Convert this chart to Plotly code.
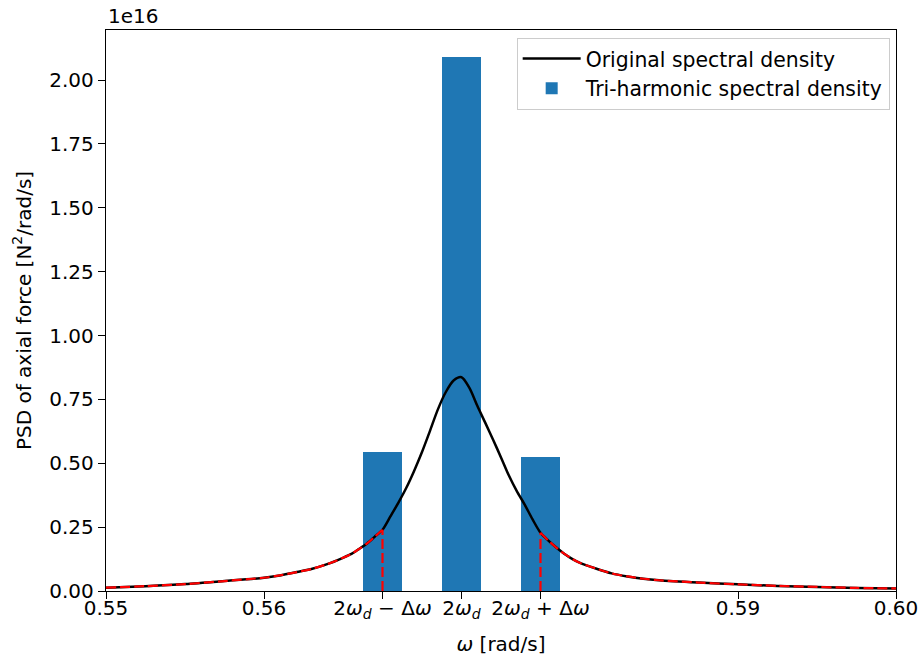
import plotly.graph_objects as go

# Spectral density of the axial force (values in units of 1e16 N^2/(rad/s))
omega = [0.550, 0.5525, 0.555, 0.5575, 0.560, 0.561, 0.562, 0.563, 0.564, 0.565,
         0.5655, 0.566, 0.5665, 0.567, 0.5675, 0.568, 0.5685, 0.569, 0.5695, 0.570,
         0.5705, 0.571, 0.5715, 0.572, 0.5725, 0.573, 0.5735, 0.574, 0.5745, 0.575,
         0.5755, 0.576, 0.5765, 0.577, 0.5775, 0.578, 0.5785, 0.579, 0.5795, 0.580,
         0.581, 0.582, 0.583, 0.584, 0.585, 0.5875, 0.590, 0.5925, 0.595, 0.5975,
         0.600]
psd = [0.013, 0.019, 0.027, 0.039, 0.052, 0.061, 0.073, 0.086, 0.105, 0.130,
       0.144, 0.164, 0.185, 0.212, 0.240, 0.292, 0.345, 0.403, 0.470, 0.544,
       0.626, 0.710, 0.778, 0.824, 0.837, 0.795, 0.725, 0.659, 0.592, 0.523,
       0.452, 0.391, 0.338, 0.280, 0.228, 0.197, 0.170, 0.146, 0.126, 0.110,
       0.088, 0.069, 0.057, 0.048, 0.042, 0.033, 0.026, 0.020, 0.016, 0.012,
       0.010]

# Tri-harmonic approximation
two_omega_d = 0.5725
delta_omega = 0.005
tri_omega = [two_omega_d - delta_omega, two_omega_d, two_omega_d + delta_omega]
tri_psd = [0.5425, 2.091, 0.524]
bar_width = 0.0025

x_tickvals = [0.55, 0.56] + tri_omega + [0.59, 0.60]
x_ticktext = ["0.55", "0.56",
              "2<i>ω</i><sub><i>d</i></sub> − Δ<i>ω</i>",
              "2<i>ω</i><sub><i>d</i></sub>",
              "2<i>ω</i><sub><i>d</i></sub> + Δ<i>ω</i>",
              "0.59", "0.60"]
y_tickvals = [0.0, 0.25, 0.5, 0.75, 1.0, 1.25, 1.5, 1.75, 2.0]

FONT = "DejaVu Sans"
FS = 20
BLUE = "#1f77b4"
DASH = "10px,4px"

fig = go.Figure()

fig.add_trace(go.Bar(
    x=tri_omega, y=tri_psd, width=bar_width,
    marker=dict(color=BLUE, line=dict(width=0)),
    name="Tri-harmonic spectral density", legendrank=2,
))

fig.add_trace(go.Scatter(
    x=omega, y=psd, mode="lines",
    line=dict(color="black", width=2.5, shape="spline", smoothing=0.8),
    name="Original spectral density", legendrank=1,
))

# Red dashed overlay on the tails outside the side harmonics
lo, hi = tri_omega[0], tri_omega[2]
left = [(w, p) for w, p in zip(omega, psd) if w <= lo + 1e-12]
right = [(w, p) for w, p in zip(omega, psd) if w >= hi - 1e-12]
for seg in (left, right):
    fig.add_trace(go.Scatter(
        x=[s[0] for s in seg], y=[s[1] for s in seg], mode="lines",
        line=dict(color="red", width=2.2, dash=DASH, shape="spline", smoothing=0.8),
        showlegend=False, hoverinfo="skip",
    ))

# Vertical dashed markers at the side harmonics, up to the spectrum
for w0 in (lo, hi):
    idx = min(range(len(omega)), key=lambda i: abs(omega[i] - w0))
    fig.add_trace(go.Scatter(
        x=[w0, w0], y=[0, psd[idx]], mode="lines",
        line=dict(color="red", width=2.2, dash=DASH),
        showlegend=False, hoverinfo="skip",
    ))

axis_common = dict(
    showline=True, linecolor="black", linewidth=1.4, mirror=True,
    ticks="outside", ticklen=7, tickwidth=1.4, tickcolor="black",
    showgrid=False, zeroline=False,
    tickfont=dict(family=FONT, size=FS, color="black"),
)

fig.update_xaxes(
    range=[0.55, 0.60], tickmode="array", tickvals=x_tickvals, ticktext=x_ticktext,
    ticklabelstandoff=-8, automargin=False,
    title=dict(text="<i>ω</i> [rad/s]", font=dict(family=FONT, size=FS, color="black"),
               standoff=15),
    **axis_common,
)
fig.update_yaxes(
    range=[0, 2.196], tickmode="array", tickvals=y_tickvals,
    ticktext=[f"{v:.2f}" for v in y_tickvals],
    title=dict(text="PSD of axial force [N<sup>2</sup>/rad/s]",
               font=dict(family=FONT, size=FS, color="black"), standoff=12),
    **axis_common,
)

fig.add_annotation(
    text="1e16", xref="paper", yref="paper", x=0, y=1.0,
    xanchor="left", yanchor="bottom", showarrow=False,
    font=dict(family=FONT, size=FS, color="black"),
)

fig.update_layout(
    width=921, height=663,
    margin=dict(l=106, r=25, t=30, b=72),
    paper_bgcolor="white", plot_bgcolor="white",
    font=dict(family=FONT, size=FS, color="black"),
    bargap=0,
    legend=dict(
        x=0.992, y=0.986, xanchor="right", yanchor="top",
        bgcolor="rgba(255,255,255,0.8)", bordercolor="#cccccc", borderwidth=1,
        font=dict(family=FONT, size=20.4, color="black"),
        itemwidth=58, tracegroupgap=2,
    ),
    showlegend=True,
)

fig.write_html("out.html")
